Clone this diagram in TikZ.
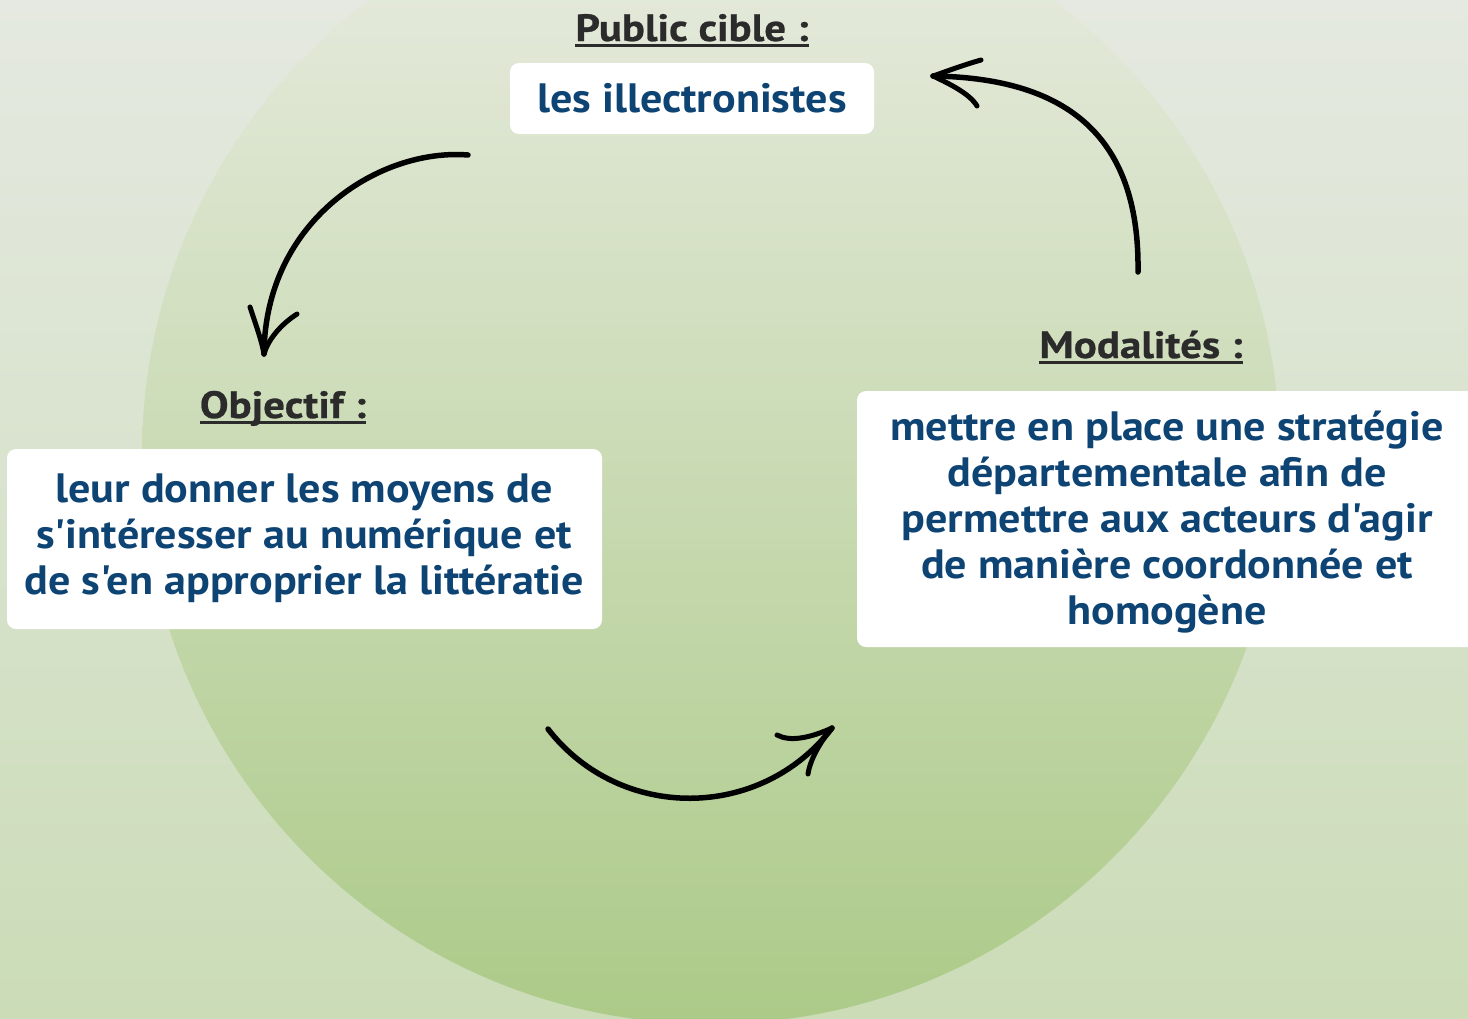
\documentclass[tikz,border=0pt]{standalone}
\usepackage{fontspec}
\setmainfont{PT Sans}[Ligatures=TeXOff]
\newfontfamily\bodyfont{PT Sans}[Ligatures=TeXOff, FakeStretch=1.075]
\newfontfamily\titlefont{PT Sans}[Ligatures=TeXOff, FakeStretch=1.13, FakeBold=0.6]
\definecolor{bgtop}{HTML}{E5E9E1}
\definecolor{bgbot}{HTML}{CBDCB7}
\definecolor{cirtop}{HTML}{E9ECE2}
\definecolor{cirbot}{HTML}{ACCA88}
\definecolor{txtblue}{HTML}{0E4474}
\definecolor{titlegray}{HTML}{2B2B2B}
\begin{document}
\begin{tikzpicture}[x=1pt,y=-1pt,
  titlestyle/.style={font=\titlefont\bfseries\fontsize{38}{44}\selectfont, text=titlegray, inner sep=0pt, anchor=base},
  bodytext/.style={font=\bodyfont\bfseries\fontsize{41}{46}\selectfont, text=txtblue, align=center, inner sep=0pt},
  whitebox/.style={fill=white, rounded corners=9pt, draw=none},
  sketch/.style={line width=5.5pt, line cap=round, black},
  barb/.style={line width=5pt, line cap=round, black},
  uline/.style={line width=2.6pt, titlegray}
]
\useasboundingbox (0,0) rectangle (1468,1018);
\begin{scope}
  \clip (0,0) rectangle (1468,1018);
  \shade[top color=bgtop, bottom color=bgbot] (0,0) rectangle (1468,1018);
  \shade[top color=cirtop, bottom color=cirbot] (711,455) circle (569);
  \fill[white, rounded corners=9pt] (857,391) rectangle (1500,647);
\end{scope}
\coordinate (mbox) at (1177,519);

% titles
\node[titlestyle] (t1) at (692,41) {Public cible :};
\node[titlestyle] (t2) at (283,418) {Objectif :};
\node[titlestyle] (t3) at (1141,358) {Modalités :};
\draw[uline] ([yshift=-4.5pt]t1.base west) -- ([yshift=-4.5pt]t1.base east);
\draw[uline] ([yshift=-4.5pt]t2.base west) -- ([yshift=-4.5pt]t2.base east);
\draw[uline] ([yshift=-4.5pt]t3.base west) -- ([yshift=-4.5pt]t3.base east);

% boxes
\node[whitebox, bodytext, minimum width=364pt, minimum height=71pt] (pbox) at (692,98.5) {les illectronistes};
\node[whitebox, minimum width=595pt, minimum height=180pt] (obox) at (304.5,539) {};
\node[bodytext] (otxt) at (304,538) {leur donner les moyens de\\s'intéresser au numérique et\\de s'en approprier la littératie};
\node[bodytext] (mtxt) at (1167,522) {mettre en place une stratégie\\départementale afin de\\permettre aux acteurs d'agir\\de manière coordonnée et\\homogène};

% arrows
\coordinate (a1s) at (468,155);
\coordinate (a1t) at (264,354);
\draw[sketch] (a1s) .. controls (380,148) and (265,220) .. (a1t);
\draw[barb] (250,307) .. controls (256,325) and (262,342) .. (a1t);
\draw[barb] (297,314) .. controls (280,325) and (268,340) .. (a1t);

\coordinate (a2s) at (1138,272);
\coordinate (a2t) at (933,76);
\draw[sketch] (a2s) .. controls (1140,130) and (1060,78) .. (a2t);
\draw[barb] (981,60) .. controls (960,66) and (945,72) .. (a2t);
\draw[barb] (977,106) .. controls (970,94) and (950,84) .. (a2t);

\coordinate (a3s) at (548,729);
\coordinate (a3t) at (832,728);
\draw[sketch] (a3s) .. controls (620,822) and (761,821) .. (a3t);
\draw[barb] (777,735) .. controls (790,742) and (810,738) .. (a3t);
\draw[barb] (808,774) .. controls (810,760) and (820,742) .. (a3t);
\end{tikzpicture}
\end{document}
